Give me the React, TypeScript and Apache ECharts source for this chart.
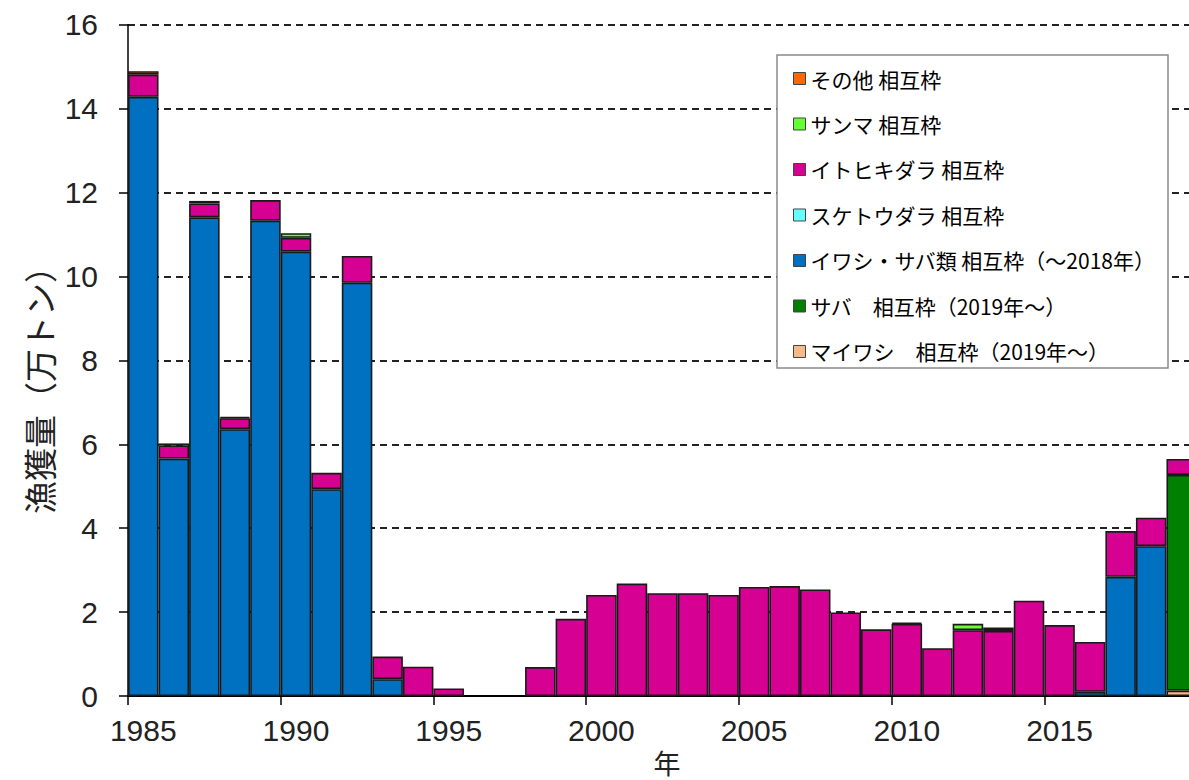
import React, { useEffect, useRef } from "react";
import * as echarts from "echarts";

const years = [
  "1985", "1986", "1987", "1988", "1989", "1990", "1991", "1992", "1993", "1994",
  "1995", "1996", "1997", "1998", "1999", "2000", "2001", "2002", "2003", "2004",
  "2005", "2006", "2007", "2008", "2009", "2010", "2011", "2012", "2013", "2014",
  "2015", "2016", "2017", "2018", "2019",
];

// 万トン per year, 1985..2019
const otherQuota = [
  0.08, 0.05, 0.06, 0.03, 0, 0, 0, 0, 0, 0,
  0, 0, 0, 0, 0, 0, 0, 0, 0, 0,
  0, 0, 0, 0, 0, 0.03, 0, 0, 0, 0,
  0, 0, 0, 0, 0,
];
const sauryQuota = [
  0, 0, 0, 0, 0, 0.11, 0, 0, 0, 0,
  0, 0, 0, 0, 0, 0, 0, 0, 0, 0,
  0, 0, 0, 0, 0, 0, 0, 0.15, 0.08, 0,
  0, 0, 0, 0, 0,
];
const longfinCodQuota = [
  0.53, 0.31, 0.33, 0.26, 0.49, 0.33, 0.39, 0.64, 0.54, 0.70,
  0.18, 0, 0, 0.69, 1.84, 2.41, 2.68, 2.45, 2.45, 2.41,
  2.60, 2.62, 2.54, 1.99, 1.59, 1.72, 1.14, 1.57, 1.55, 2.27,
  1.69, 1.19, 1.09, 0.68, 0.38,
];
const pollockQuota = [
  0, 0, 0, 0, 0, 0, 0, 0, 0, 0,
  0, 0, 0, 0, 0, 0, 0, 0, 0, 0,
  0, 0, 0, 0, 0, 0, 0, 0, 0, 0,
  0, 0, 0, 0, 0,
];
const sardineMackerelQuota = [
  14.28, 5.66, 11.41, 6.36, 11.33, 10.59, 4.93, 9.85, 0.40, 0,
  0, 0, 0, 0, 0, 0, 0, 0, 0, 0,
  0, 0, 0, 0, 0, 0, 0, 0, 0, 0,
  0, 0.10, 2.84, 3.57, 0,
];
const mackerelQuota = [
  0, 0, 0, 0, 0, 0, 0, 0, 0, 0,
  0, 0, 0, 0, 0, 0, 0, 0, 0, 0,
  0, 0, 0, 0, 0, 0, 0, 0, 0, 0,
  0, 0, 0, 0, 5.14,
];
const sardineQuota = [
  0, 0, 0, 0, 0, 0, 0, 0, 0, 0,
  0, 0, 0, 0, 0, 0, 0, 0, 0, 0,
  0, 0, 0, 0, 0, 0, 0, 0, 0, 0,
  0, 0, 0, 0, 0.13,
];

const yTicks = [0, 2, 4, 6, 8, 10, 12, 14, 16];

// stacking order: bottom -> top
const seriesDefs = [
  { name: "マイワシ　相互枠（2019年～）", data: sardineQuota, color: "#F8B98A" },
  { name: "サバ　相互枠（2019年～）", data: mackerelQuota, color: "#008000" },
  { name: "イワシ・サバ類 相互枠（～2018年）", data: sardineMackerelQuota, color: "#0070C0" },
  { name: "スケトウダラ 相互枠", data: pollockQuota, color: "#66FFFF" },
  { name: "イトヒキダラ 相互枠", data: longfinCodQuota, color: "#D60093" },
  { name: "サンマ 相互枠", data: sauryQuota, color: "#66FF33" },
  { name: "その他 相互枠", data: otherQuota, color: "#FF6600" },
];

export default function App() {
  const ref = useRef<HTMLDivElement>(null);

  useEffect(() => {
    if (!ref.current) return;
    const chart = echarts.init(ref.current, undefined, { renderer: "svg" });
    const numFont = "'Liberation Sans', Arial, sans-serif";
    const jpFont = "'Noto Sans CJK JP', sans-serif";

    chart.setOption({
      animation: false,
      backgroundColor: "#ffffff",
      grid: { left: 128, top: 24.7, width: 1069, height: 671.3, containLabel: false },
      xAxis: {
        type: "category",
        data: years,
        boundaryGap: true,
        axisLine: { show: true, lineStyle: { color: "#000", width: 2 } },
        axisTick: { show: true, interval: 4, alignWithLabel: false, length: 9, lineStyle: { color: "#000", width: 1.5 } },
        axisLabel: { interval: 4, fontSize: 30, fontFamily: numFont, color: "#222", margin: 19 },
        splitLine: { show: false },
      },
      yAxis: {
        type: "value",
        min: 0,
        max: 16,
        interval: 2,
        axisLine: { show: true, lineStyle: { color: "#000", width: 1.5 } },
        axisTick: { show: true, length: 9, lineStyle: { color: "#000", width: 1.5 } },
        axisLabel: {
          fontSize: 30,
          fontFamily: numFont,
          color: "#222",
          margin: 30,
          formatter: (v: number) => (yTicks.includes(v) ? String(v) : ""),
        },
        splitLine: { show: true, lineStyle: { color: "#222", width: 2, type: [7, 5] } },
      },
      legend: {
        orient: "vertical",
        left: 793,
        top: 68,
        padding: 0,
        itemWidth: 12,
        itemHeight: 12,
        itemGap: 24.5,
        icon: "rect",
        selectedMode: false,
        itemStyle: { borderColor: "#444", borderWidth: 1 },
        textStyle: { fontSize: 21, fontFamily: jpFont, color: "#000", lineHeight: 20 },
        data: seriesDefs.map((s) => s.name).reverse(),
      },
      graphic: [
        {
          type: "rect",
          z: 3,
          shape: { x: 777, y: 55, width: 391, height: 313 },
          style: { fill: "#ffffff", stroke: "#8a8a8a", lineWidth: 1.5 },
        },
        {
          type: "text",
          x: 39,
          y: 382,
          rotation: Math.PI / 2,
          style: {
            text: "漁獲量（万トン）",
            fontSize: 33,
            fontFamily: jpFont,
            fill: "#222",
            align: "center",
            verticalAlign: "middle",
          },
        },
        {
          type: "text",
          x: 667,
          y: 762,
          style: {
            text: "年",
            fontSize: 27,
            fontFamily: jpFont,
            fill: "#222",
            align: "center",
            verticalAlign: "middle",
            lineHeight: 28,
          },
        },
      ],
      series: seriesDefs.map((s) => ({
        name: s.name,
        type: "bar",
        stack: "total",
        barCategoryGap: "0%",
        barGap: "0%",
        data: s.data.map((v) => (v === 0 ? "-" : v)),
        itemStyle: { color: s.color, borderColor: "#1a1a1a", borderWidth: 1.6 },
        emphasis: { disabled: true },
      })),
    });

    return () => chart.dispose();
  }, []);

  return (
    <div
      style={{
        position: "fixed",
        left: 0,
        top: 0,
        width: 1189,
        height: 780,
        overflow: "hidden",
        background: "#fff",
      }}
    >
      <div ref={ref} style={{ width: 1215, height: 780 }} />
    </div>
  );
}
